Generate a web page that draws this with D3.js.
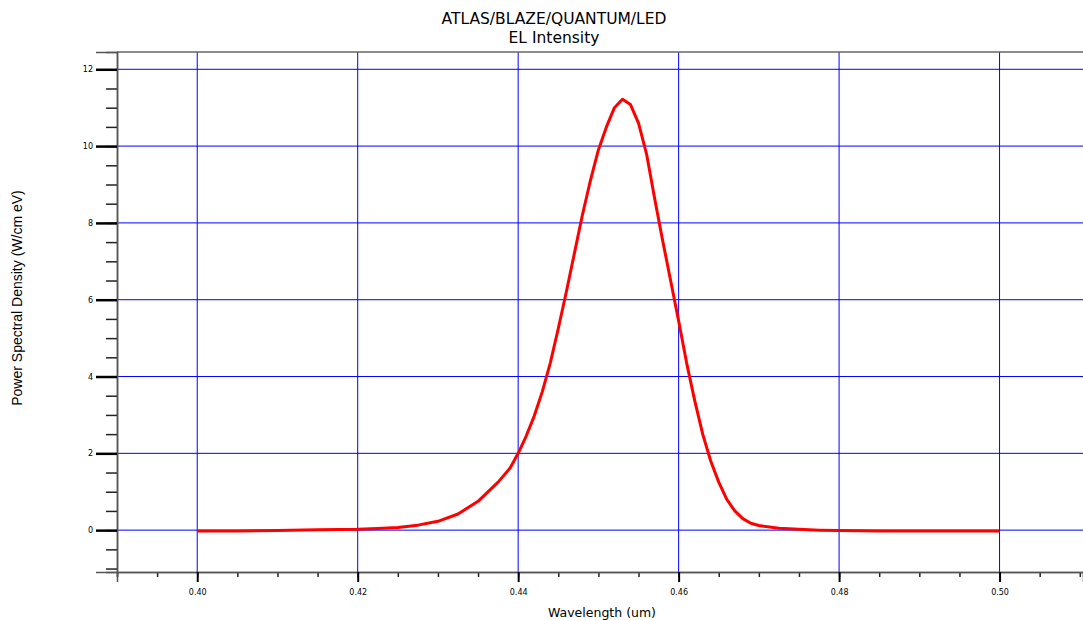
<!DOCTYPE html>
<html>
<head>
<meta charset="utf-8">
<script src="https://cdn.jsdelivr.net/npm/d3@7"></script>
<style>
  body { margin: 0; background: #fff; }
  svg { display: block; }
</style>
</head>
<body>
<svg></svg>
<script>
// wavelength (um) and EL power spectral density
let wavelength = [
  0.400, 0.405, 0.410, 0.415, 0.420, 0.4225, 0.425, 0.4275, 0.430, 0.4325,
  0.435, 0.4375, 0.439, 0.440, 0.441, 0.442, 0.443, 0.444, 0.445, 0.446,
  0.447, 0.448, 0.449, 0.450, 0.451, 0.452, 0.453, 0.454, 0.455, 0.456,
  0.457, 0.458, 0.459, 0.460, 0.461, 0.462, 0.463, 0.464, 0.465, 0.466,
  0.467, 0.468, 0.469, 0.470, 0.4725, 0.475, 0.4775, 0.480, 0.485, 0.490,
  0.495, 0.500
]
let intensity = [
  -0.02, -0.02, -0.01, 0.01, 0.02, 0.04, 0.07, 0.13, 0.23, 0.42,
  0.75, 1.25, 1.62, 2.0, 2.45, 2.97, 3.6, 4.35, 5.25, 6.2,
  7.2, 8.2, 9.1, 9.9, 10.5, 11.0, 11.22, 11.08, 10.6, 9.8,
  8.65, 7.55, 6.5, 5.45, 4.35, 3.38, 2.5, 1.8, 1.25, 0.8,
  0.5, 0.3, 0.18, 0.12, 0.05, 0.02, 0.0, -0.01, -0.02, -0.02,
  -0.02, -0.02
]

let xMajor = [ 0.40, 0.42, 0.44, 0.46, 0.48, 0.50 ]
let yMajor = [ 0, 2, 4, 6, 8, 10, 12 ]

let titleLines = [ 'ATLAS/BLAZE/QUANTUM/LED', 'EL Intensity' ]
let xTitle = 'Wavelength (um)'
let yTitle = 'Power Spectral Density (W/cm eV)'

let width = 1083
let height = 620
let plotLeft = 117, plotRight = 1083, plotTop = 52, plotBottom = 572

const xScale =
d3.scaleLinear()
  .domain( [ 0.39, 0.5104 ] )
  .range( [ plotLeft, plotRight ] )

const yScale =
d3.scaleLinear()
  .domain( [ -1.09, 12.45 ] )
  .range( [ plotBottom, plotTop ] )

let svg =
d3.select( 'svg' )
  .attr( 'width', width )
  .attr( 'height', height )

// grid
svg.append( 'g' )
  .selectAll( 'line' )
  .data( xMajor )
  .enter()
  .append( 'line' )
  .attr( 'x1', d => xScale( d ) )
  .attr( 'x2', d => xScale( d ) )
  .attr( 'y1', plotTop )
  .attr( 'y2', plotBottom )
  .attr( 'stroke', '#0000ff' )
  .attr( 'stroke-width', 1 )

svg.append( 'g' )
  .selectAll( 'line' )
  .data( yMajor )
  .enter()
  .append( 'line' )
  .attr( 'x1', plotLeft )
  .attr( 'x2', plotRight )
  .attr( 'y1', d => yScale( d ) )
  .attr( 'y2', d => yScale( d ) )
  .attr( 'stroke', '#0000ff' )
  .attr( 'stroke-width', 1 )

// frame line on top
svg.append( 'line' )
  .attr( 'x1', plotLeft ).attr( 'x2', plotRight )
  .attr( 'y1', plotTop ).attr( 'y2', plotTop )
  .attr( 'stroke', '#666' ).attr( 'stroke-width', 1.5 )

// x axis: minor ticks each 0.005
let xMinor = d3.range( 0, 25 ).map( i => 0.39 + i * 0.005 ).filter( v => v <= 0.5104 )
let xAxisMinor =
d3.axisBottom( xScale )
  .tickValues( xMinor )
  .tickSize( 5 )
  .tickFormat( '' )
let xAxisMajor =
d3.axisBottom( xScale )
  .tickValues( xMajor )
  .tickSize( 10 )
  .tickPadding( 7 )
  .tickFormat( d3.format( '.2f' ) )

let gxMinor = svg.append( 'g' ).attr( 'transform', `translate(0,${ plotBottom })` ).call( xAxisMinor )
let gx = svg.append( 'g' ).attr( 'transform', `translate(0,${ plotBottom })` ).call( xAxisMajor )

// y axis: minor ticks each 0.5
let yMinor = d3.range( 0, 27 ).map( i => -1 + i * 0.5 ).filter( v => v <= 12.45 )
let yAxisMinor =
d3.axisLeft( yScale )
  .tickValues( yMinor )
  .tickSize( 11 )
  .tickFormat( '' )
let yAxisMajor =
d3.axisLeft( yScale )
  .tickValues( yMajor )
  .tickSize( 21 )
  .tickPadding( 3 )
  .tickFormat( d3.format( 'd' ) )

let gyMinor = svg.append( 'g' ).attr( 'transform', `translate(${ plotLeft },0)` ).call( yAxisMinor )
let gy = svg.append( 'g' ).attr( 'transform', `translate(${ plotLeft },0)` ).call( yAxisMajor )

svg.selectAll( '.domain' ).attr( 'stroke', '#555' ).attr( 'stroke-width', 1.5 )
gxMinor.selectAll( '.tick line' ).attr( 'stroke', '#222' ).attr( 'stroke-width', 1.5 )
gyMinor.selectAll( '.tick line' ).attr( 'stroke', '#222' ).attr( 'stroke-width', 1.5 )
gx.selectAll( '.tick line' ).attr( 'stroke', '#000' ).attr( 'stroke-width', 2 )
gy.selectAll( '.tick line' ).attr( 'stroke', '#000' ).attr( 'stroke-width', 2.5 )
svg.selectAll( '.tick text' )
  .attr( 'font-family', 'DejaVu Sans, Verdana, sans-serif' )
  .attr( 'font-size', 8 )
  .attr( 'fill', '#000' )

// curve
let points = wavelength.map( ( w, i ) => [ w, intensity[ i ] ] )
let line =
d3.line()
  .x( d => xScale( d[ 0 ] ) )
  .y( d => yScale( d[ 1 ] ) )

svg.append( 'path' )
  .datum( points )
  .attr( 'd', line )
  .attr( 'fill', 'none' )
  .attr( 'stroke', '#ff0000' )
  .attr( 'stroke-width', 3 )
  .attr( 'stroke-linejoin', 'round' )

// titles
svg.selectAll( '.title' )
  .data( titleLines )
  .enter()
  .append( 'text' )
  .attr( 'class', 'title' )
  .text( d => d )
  .attr( 'x', 554 )
  .attr( 'y', ( d, i ) => 24 + i * 19 )
  .attr( 'text-anchor', 'middle' )
  .attr( 'font-family', 'DejaVu Sans, Verdana, sans-serif' )
  .attr( 'font-size', 15.5 )
  .attr( 'fill', '#000' )

svg.append( 'text' )
  .text( xTitle )
  .attr( 'x', 602 )
  .attr( 'y', 617 )
  .attr( 'text-anchor', 'middle' )
  .attr( 'font-family', 'DejaVu Sans, Verdana, sans-serif' )
  .attr( 'font-size', 12.5 )
  .attr( 'fill', '#000' )

svg.append( 'text' )
  .text( yTitle )
  .attr( 'transform', 'translate(22,298) rotate(-90)' )
  .attr( 'text-anchor', 'middle' )
  .attr( 'font-family', 'Liberation Sans, Arial, sans-serif' )
  .attr( 'font-size', 14 )
  .attr( 'fill', '#000' )
</script>
</body>
</html>
